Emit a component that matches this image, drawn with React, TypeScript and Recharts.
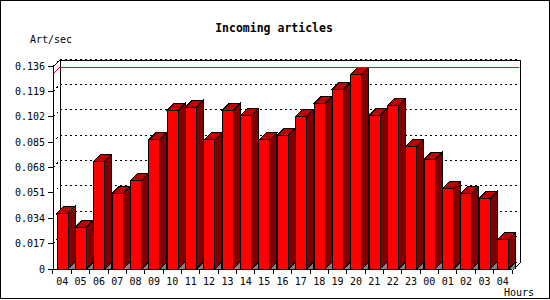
import React from "react";
import {
  BarChart,
  Bar,
  XAxis,
  YAxis,
  CartesianGrid,
  ReferenceLine,
  Customized,
} from "recharts";

// hours of the day, oldest first
const hours = [
  "04", "05", "06", "07", "08", "09", "10", "11", "12", "13", "14", "15", "16",
  "17", "18", "19", "20", "21", "22", "23", "00", "01", "02", "03", "04",
];

// incoming articles per second
const rates = [
  0.0375, 0.0281, 0.0722, 0.0507, 0.0594, 0.0865, 0.1064, 0.1084, 0.0865,
  0.1064, 0.103, 0.0865, 0.0896, 0.1023, 0.111, 0.1204, 0.1305, 0.103,
  0.1097, 0.0822, 0.0735, 0.0541, 0.0507, 0.0474, 0.0199,
];

const yTicks = [0, 0.017, 0.034, 0.051, 0.068, 0.085, 0.102, 0.119, 0.136];

const data = hours.map((h, i) => ({ hour: h, rate: rates[i] }));
const maxRate = Math.max(...rates);

// layout
const W = 550;
const H = 299;
const LEFT = 53;
const TOP = 67;
const RIGHT = 513;
const BOTTOM = 270;
const DEPTH = 7;
const FONT = "'DejaVu Sans Mono', 'Liberation Mono', monospace";

function Bar3D(props: any) {
  const { x, y, width, height } = props;
  if (height == null || height <= 0) return null;
  const xr = x + width;
  const yb = y + height;
  const d = DEPTH;
  return (
    <g stroke="#000" strokeWidth={1} strokeLinejoin="miter">
      <polygon points={`${xr},${yb} ${xr + d},${yb - d} ${xr + d},${yb}`} fill="#808080" />
      <polygon
        points={`${xr},${y} ${xr + d},${y - d} ${xr + d},${yb - d} ${xr},${yb}`}
        fill="#800000"
      />
      <polygon points={`${x},${y} ${x + d},${y - d} ${xr + d},${y - d} ${xr},${y}`} fill="#c00000" />
      <rect x={x} y={y} width={width} height={height} fill="#ff0000" />
    </g>
  );
}

function HourTick(props: any) {
  const { x, payload, index } = props;
  const step = (RIGHT - LEFT) / hours.length;
  const bx = x - step / 2;
  return (
    <g>
      <line x1={bx} y1={BOTTOM} x2={bx} y2={BOTTOM + 4} stroke="#000" />
      {index === hours.length - 1 && (
        <line x1={bx + step} y1={BOTTOM} x2={bx + step} y2={BOTTOM + 4} stroke="#000" />
      )}
      <text x={x} y={BOTTOM + 15} textAnchor="middle" fontFamily={FONT} fontSize={10} fill="#000">
        {payload.value}
      </text>
    </g>
  );
}

function gridLine(props: any) {
  const { x1, y1, x2 } = props;
  if (Math.abs(y1 - TOP) < 1 || Math.abs(y1 - BOTTOM) < 1) return <g key={props.key ?? y1} />;
  return (
    <g key={props.key ?? y1} stroke="#000" strokeDasharray="2 3" fill="none">
      <line x1={x1} y1={y1} x2={x1 + DEPTH} y2={y1 - DEPTH} />
      <line x1={x1 + DEPTH} y1={y1 - DEPTH} x2={x2 + DEPTH} y2={y1 - DEPTH} />
    </g>
  );
}

function maxLine(props: any) {
  const { x1, y1, x2 } = props;
  const yb = Math.round(y1 - DEPTH) + 0.5;
  return (
    <g fill="none">
      <line x1={x1} y1={y1} x2={x1 + DEPTH} y2={y1 - DEPTH} stroke="#ff0000" strokeWidth={1} />
      <line x1={x1 + DEPTH} y1={yb} x2={x2 + DEPTH} y2={yb} stroke="#ff0000" strokeWidth={1} />
    </g>
  );
}

function Frame() {
  return (
    <g stroke="#000" fill="none">
      <line x1={LEFT} y1={TOP} x2={LEFT + DEPTH} y2={TOP - DEPTH} />
      <line x1={LEFT + DEPTH} y1={TOP - DEPTH} x2={RIGHT + DEPTH} y2={TOP - DEPTH} />
      <line x1={LEFT + DEPTH} y1={TOP - DEPTH} x2={LEFT + DEPTH} y2={BOTTOM - DEPTH} />
      <line x1={RIGHT + DEPTH} y1={TOP - DEPTH} x2={RIGHT + DEPTH} y2={BOTTOM - DEPTH} />
      <line x1={RIGHT} y1={BOTTOM} x2={RIGHT + DEPTH} y2={BOTTOM - DEPTH} />
    </g>
  );
}

function Labels() {
  return (
    <g fontFamily={FONT} fill="#000" stroke="none">
      <text x={274} y={32} textAnchor="middle" fontSize={11.5} fontWeight="bold">
        Incoming articles
      </text>
      <text x={30} y={43} fontSize={10}>
        Art/sec
      </text>
      <text x={504} y={296} fontSize={10}>
        Hours
      </text>
    </g>
  );
}

export default function App() {
  return (
    <div
      style={{
        width: W,
        height: H,
        border: "1px solid #000",
        boxSizing: "border-box",
        background: "#fff",
        position: "relative",
      }}
    >
      <style>{"body{margin:0} svg line, svg polygon, svg rect, svg path{shape-rendering:crispEdges}"}</style>
      <BarChart
        width={W - 2}
        height={H - 2}
        data={data}
        margin={{ top: TOP - 1, right: W - 1 - RIGHT, bottom: 0, left: 0 }}
        style={{ position: "absolute", left: -1, top: -1 }}
      >
        <CartesianGrid vertical={false} horizontal={gridLine} />
        <Customized component={Frame} />
        <ReferenceLine y={maxRate} shape={maxLine} />
        <XAxis
          dataKey="hour"
          height={H - 1 - BOTTOM}
          axisLine={{ stroke: "#000" }}
          tickLine={false}
          tick={HourTick}
          interval={0}
        />
        <YAxis
          width={LEFT}
          domain={[0, 0.136]}
          ticks={yTicks}
          allowDataOverflow
          axisLine={{ stroke: "#000" }}
          tickLine={{ stroke: "#000" }}
          tickSize={5}
          tickMargin={3}
          tick={{ fill: "#000", fontSize: 10, fontFamily: FONT }}
          tickFormatter={(v: number) => (v === 0 ? "0" : v.toFixed(3))}
        />
        <Bar dataKey="rate" barSize={11} shape={Bar3D} isAnimationActive={false} />
        <Customized component={Labels} />
      </BarChart>
    </div>
  );
}
